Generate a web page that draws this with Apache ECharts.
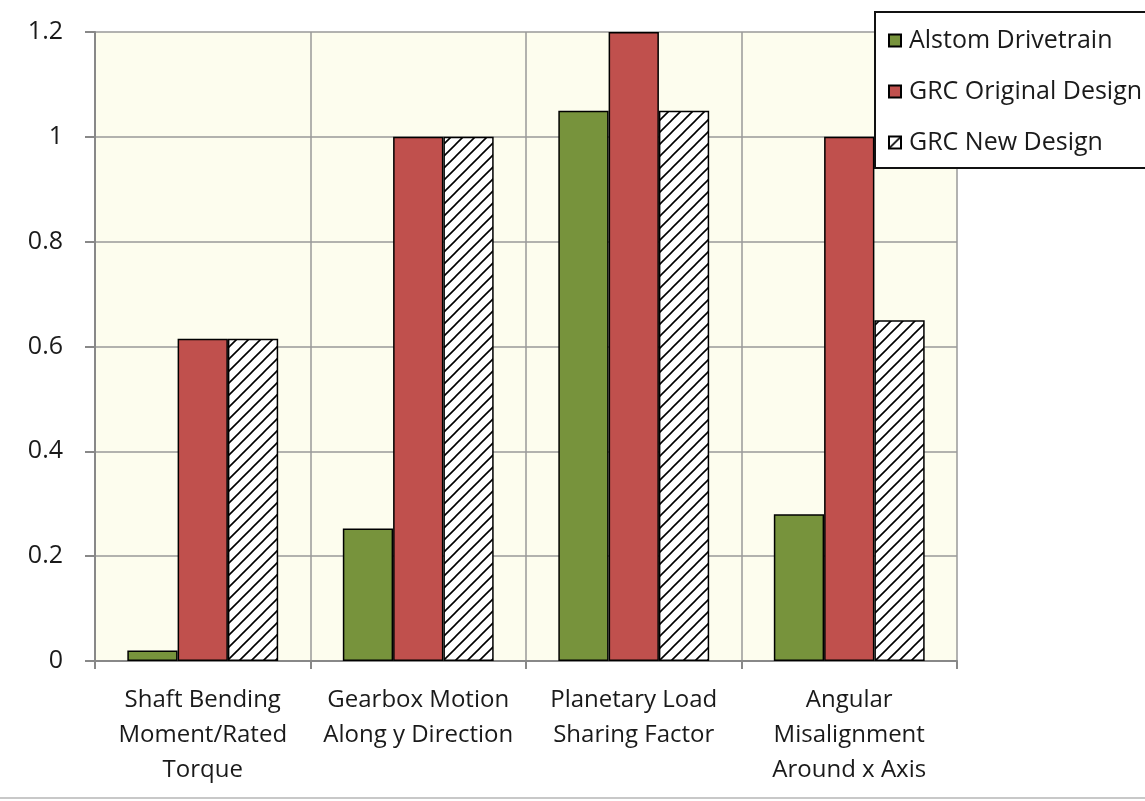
<!DOCTYPE html>
<html><head><meta charset="utf-8">
<script src="https://cdn.jsdelivr.net/npm/echarts@6/dist/echarts.min.js"></script>
<style>html,body{margin:0;padding:0;background:#fff}#c{width:1145px;height:801px}</style>
</head><body><div id="c"></div>
<script>
const categories = ['Shaft Bending\nMoment/Rated\nTorque', 'Gearbox Motion\nAlong y Direction', 'Planetary Load\nSharing Factor', 'Angular\nMisalignment\nAround x Axis'];
const seriesNames = ['Alstom Drivetrain', 'GRC Original Design', 'GRC New Design'];
const alstom = [0.02, 0.253, 1.05, 0.28];
const grcOriginal = [0.615, 1.0, 1.2, 1.0];
const grcNew = [0.615, 1.0, 1.05, 0.65];
const yTicks = [0, 0.2, 0.4, 0.6, 0.8, 1, 1.2];

function hatch() {
  const s = 12, c = document.createElement('canvas');
  c.width = s; c.height = s;
  const g = c.getContext('2d');
  g.fillStyle = '#fff'; g.fillRect(0, 0, s, s);
  g.strokeStyle = '#000'; g.lineWidth = 1.6;
  g.beginPath();
  g.moveTo(-2, s + 2); g.lineTo(s + 2, -2);
  g.moveTo(-2, 2); g.lineTo(2, -2);
  g.moveTo(s - 2, s + 2); g.lineTo(s + 2, s - 2);
  g.stroke();
  return c;
}

const font = '"Open Sans", "DejaVu Sans", sans-serif';
const chart = echarts.init(document.getElementById('c'));
const border = { borderColor: '#000', borderWidth: 1.5 };
chart.setOption({
  animation: false,
  backgroundColor: '#fff',
  textStyle: { fontFamily: font },
  grid: { left: 95, right: 188, top: 32, bottom: 140, show: true, backgroundColor: '#fdfdee', borderWidth: 0 },
  legend: {
    left: 875, top: 12, orient: 'vertical',
    backgroundColor: '#fff', borderColor: '#111', borderWidth: 2,
    padding: [16, 30, 13, 13], itemGap: 26, itemWidth: 12, itemHeight: 12,
    icon: 'rect',
    textStyle: { fontSize: 25, color: '#1a1a1a', fontFamily: font, padding: [0, 0, 0, 3] },
    data: seriesNames
  },
  xAxis: {
    type: 'category', data: categories,
    axisLine: { lineStyle: { color: '#888', width: 2 } },
    axisTick: { show: true, length: 8, interval: 0, lineStyle: { color: '#888', width: 2 } },
    splitLine: { show: true, interval: 0, lineStyle: { color: '#999', width: 1.5 } },
    axisLabel: { interval: 0, fontSize: 24, color: '#1a1a1a', lineHeight: 35, margin: 22, fontFamily: font }
  },
  yAxis: {
    type: 'value', min: 0, max: 1.2, interval: 0.2,
    axisLine: { show: true, lineStyle: { color: '#888', width: 2 } },
    axisTick: { show: true, length: 10, lineStyle: { color: '#888', width: 2 } },
    splitLine: { show: true, lineStyle: { color: '#999', width: 1.5 } },
    axisLabel: { fontSize: 25, color: '#1a1a1a', margin: 32, fontFamily: font,
      formatter: v => { const t = yTicks.find(x => Math.abs(x - v) < 1e-9); return t === undefined ? '' : String(t); } }
  },
  series: [
    { name: seriesNames[0], type: 'bar', data: alstom, barGap: '0%', barCategoryGap: '30%',
      itemStyle: Object.assign({ color: '#77933c' }, border) },
    { name: seriesNames[1], type: 'bar', data: grcOriginal, barGap: '0%', barCategoryGap: '30%',
      itemStyle: Object.assign({ color: '#c0504d' }, border) },
    { name: seriesNames[2], type: 'bar', data: grcNew, barGap: '0%', barCategoryGap: '30%',
      itemStyle: Object.assign({ color: { image: hatch(), repeat: 'repeat' } }, border) }
  ],
  graphic: [{ type: 'rect', left: 0, top: 797, shape: { width: 1145, height: 2 }, style: { fill: '#c8c8c8' } }]
});
</script></body></html>
